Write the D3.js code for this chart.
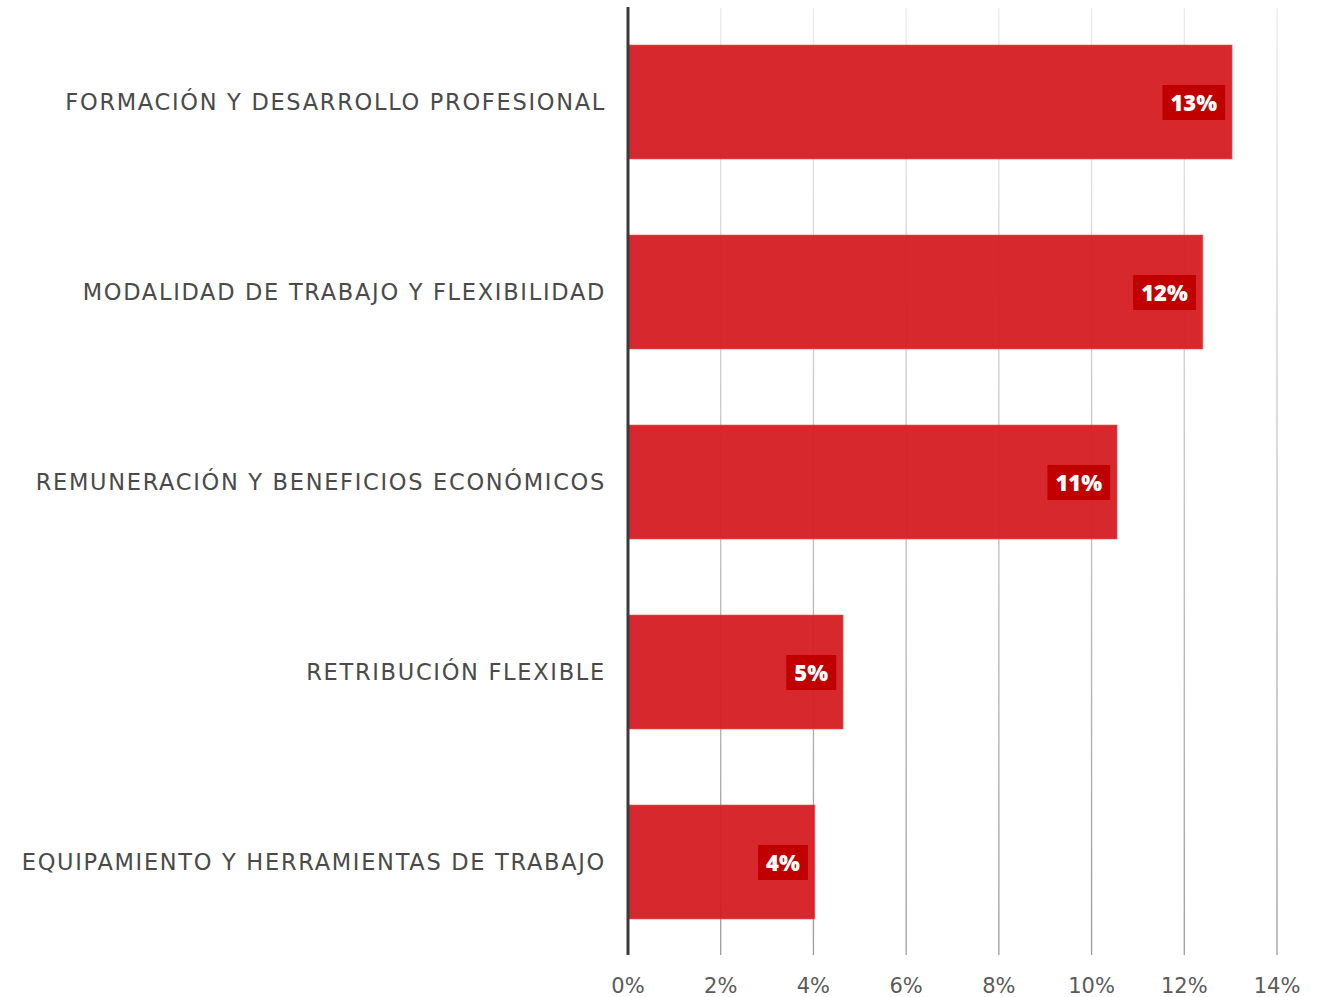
<!DOCTYPE html>
<html>
<head>
<meta charset="utf-8">
<script src="https://cdn.jsdelivr.net/npm/d3@7/dist/d3.min.js"></script>
<style>
  html, body { margin: 0; padding: 0; background: #fff; }
  svg { display: block; }
</style>
</head>
<body>
<svg id="chart" width="1319" height="997"></svg>
<script>
// Categories, top to bottom
const categories = [
  "FORMACIÓN Y DESARROLLO PROFESIONAL",
  "MODALIDAD DE TRABAJO Y FLEXIBILIDAD",
  "REMUNERACIÓN Y BENEFICIOS ECONÓMICOS",
  "RETRIBUCIÓN FLEXIBLE",
  "EQUIPAMIENTO Y HERRAMIENTAS DE TRABAJO"
];
// Share of responses (fraction)
const values = [0.1303, 0.1240, 0.1055, 0.0464, 0.0403];
// X axis ticks
const tickValues = [0, 0.02, 0.04, 0.06, 0.08, 0.10, 0.12, 0.14];

const svg = d3.select("#chart");
const margin = { left: 628, right: 42, top: 7, bottom: 40 };
const width = 1319, height = 997;

const x = d3.scaleLinear().domain([0, 0.14]).range([margin.left, width - margin.right]);
const y = d3.scaleBand().domain(categories).range([margin.top, height - margin.bottom])
  .paddingInner(0.4).paddingOuter(0.2);

// Gridline gradient: faint at top, darker toward the axis
const defs = svg.append("defs");
const grad = defs.append("linearGradient")
  .attr("id", "gridGrad")
  .attr("gradientUnits", "userSpaceOnUse")
  .attr("x1", 0).attr("x2", 0)
  .attr("y1", margin.top).attr("y2", height - margin.bottom);
grad.append("stop").attr("offset", "0%").attr("stop-color", "#ebebeb");
grad.append("stop").attr("offset", "100%").attr("stop-color", "#9a9a9a");

// Vertical gridlines
svg.append("g")
  .selectAll("line")
  .data(tickValues.slice(1))
  .join("line")
  .attr("x1", d => x(d)).attr("x2", d => x(d))
  .attr("y1", margin.top + 1).attr("y2", height - margin.bottom - 2)
  .attr("stroke", "url(#gridGrad)")
  .attr("stroke-width", 1.3);

// Bars
svg.append("g")
  .selectAll("rect")
  .data(values)
  .join("rect")
  .attr("x", x(0))
  .attr("y", (d, i) => y(categories[i]))
  .attr("width", d => x(d) - x(0))
  .attr("height", y.bandwidth())
  .attr("fill", "#d51e22")
  .attr("fill-opacity", 0.95)
  .attr("stroke", "#e8565a")
  .attr("stroke-opacity", 0.6)
  .attr("stroke-width", 1);

// Y axis line
svg.append("line")
  .attr("x1", x(0)).attr("x2", x(0))
  .attr("y1", margin.top).attr("y2", height - margin.bottom - 2)
  .attr("stroke", "#3a3a3a")
  .attr("stroke-width", 3);

// Category labels
svg.append("g")
  .selectAll("text")
  .data(categories)
  .join("text")
  .attr("x", x(0) - 22)
  .attr("y", d => y(d) + y.bandwidth() / 2)
  .attr("text-anchor", "end")
  .attr("dominant-baseline", "central")
  .attr("font-family", "'DejaVu Sans', sans-serif")
  .attr("font-size", 22.5)
  .attr("letter-spacing", 1.7)
  .attr("fill", "#4a4a4a")
  .text(d => d);

// Value labels in dark boxes near the bar ends
const fmt = d3.format(".0%");
const labels = svg.append("g")
  .selectAll("g")
  .data(values)
  .join("g")
  .attr("transform", (d, i) => `translate(${x(d) - 7},${y(categories[i]) + y.bandwidth() / 2})`);

labels.append("text")
  .attr("text-anchor", "end")
  .attr("dominant-baseline", "central")
  .attr("x", -8)
  .attr("font-family", "'Open Sans', sans-serif")
  .attr("font-weight", 800)
  .attr("font-size", 22)
  .attr("fill", "#fff")
  .text(d => fmt(d))
  .each(function () {
    const bb = this.getBBox();
    d3.select(this.parentNode).insert("rect", "text")
      .attr("x", bb.x - 8)
      .attr("y", -17)
      .attr("width", bb.width + 16)
      .attr("height", 35)
      .attr("fill", "#c00000");
  });

// X axis tick labels
svg.append("g")
  .selectAll("text")
  .data(tickValues)
  .join("text")
  .attr("x", d => x(d))
  .attr("y", 986)
  .attr("text-anchor", "middle")
  .attr("dominant-baseline", "central")
  .attr("font-family", "'DejaVu Sans', sans-serif")
  .attr("font-size", 21)
  .attr("fill", "#5a5a5a")
  .text(d => fmt(d));
</script>
</body>
</html>
